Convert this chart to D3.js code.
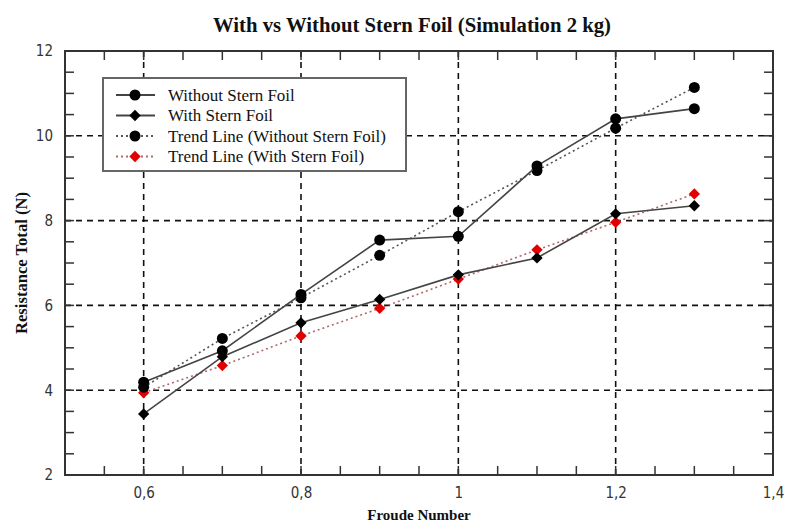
<!DOCTYPE html>
<html>
<head>
<meta charset="utf-8">
<script src="https://cdn.jsdelivr.net/npm/d3@7"></script>
<style>
  html, body { margin: 0; padding: 0; background: #fff; }
  svg { display: block; }
</style>
</head>
<body>
<svg id="chart" width="787" height="524"></svg>
<script>
// ---- data ----
const froude = [0.6, 0.7, 0.8, 0.9, 1.0, 1.1, 1.2, 1.3];
const withoutFoil = [4.19, 4.93, 6.26, 7.54, 7.63, 9.29, 10.40, 10.64];
const withFoil = [3.44, 4.79, 5.59, 6.14, 6.72, 7.12, 8.16, 8.35];
const trendWithout = [4.07, 5.22, 6.18, 7.18, 8.21, 9.18, 10.18, 11.14];
const trendWith = [3.94, 4.58, 5.28, 5.93, 6.62, 7.31, 7.96, 8.63];
const xTickValues = [0.6, 0.8, 1.0, 1.2, 1.4];
const xTickLabels = ["0,6", "0,8", "1", "1,2", "1,4"];
const yTickValues = [2, 4, 6, 8, 10, 12];
const seriesNames = ["Without Stern Foil", "With Stern Foil", "Trend Line (Without Stern Foil)", "Trend Line (With Stern Foil)"];
const titleText = "With vs Without Stern Foil (Simulation 2 kg)";
const xLabel = "Froude Number";
const yLabel = "Resistance Total (N)";

// ---- layout ----
const svg = d3.select("#chart");
const L = 65, R = 773, T = 51, B = 475;
const x = d3.scaleLinear().domain([0.5, 1.4]).range([L, R]);
const y = d3.scaleLinear().domain([2, 12]).range([B, T]);

// grid (dashed) at major values
const gridX = [0.6, 0.8, 1.0, 1.2];
const gridY = [4, 6, 8, 10];
svg.append("g").selectAll("line.gx").data(gridX).join("line")
  .attr("x1", d => x(d)).attr("x2", d => x(d)).attr("y1", T).attr("y2", B)
  .attr("stroke", "#111").attr("stroke-width", 1.6).attr("stroke-dasharray", "6,5");
svg.append("g").selectAll("line.gy").data(gridY).join("line")
  .attr("y1", d => y(d)).attr("y2", d => y(d)).attr("x1", L).attr("x2", R)
  .attr("stroke", "#111").attr("stroke-width", 1.6).attr("stroke-dasharray", "6,5");

// minor ticks (inside, all four sides)
const xMinor = d3.range(0.55, 1.4, 0.05).map(v => +v.toFixed(2));
const yMinor = d3.range(2.5, 12, 0.5).map(v => +v.toFixed(2));
const tk = svg.append("g").attr("stroke", "#333").attr("stroke-width", 1.5);
xMinor.forEach(v => {
  tk.append("line").attr("x1", x(v)).attr("x2", x(v)).attr("y1", B).attr("y2", B - 9);
  tk.append("line").attr("x1", x(v)).attr("x2", x(v)).attr("y1", T).attr("y2", T + 9);
});
yMinor.forEach(v => {
  tk.append("line").attr("y1", y(v)).attr("y2", y(v)).attr("x1", L).attr("x2", L + 9);
  tk.append("line").attr("y1", y(v)).attr("y2", y(v)).attr("x1", R).attr("x2", R - 9);
});

// frame
svg.append("rect").attr("x", L).attr("y", T).attr("width", R - L).attr("height", B - T)
  .attr("fill", "none").attr("stroke", "#333").attr("stroke-width", 2);

// axes labels via d3 axes (no domain/ticks lines)
const xAxis = d3.axisBottom(x).tickValues(xTickValues).tickSize(0).tickPadding(12)
  .tickFormat((d, i) => xTickLabels[i]);
const gx = svg.append("g").attr("transform", `translate(0,${B})`).call(xAxis);
gx.select(".domain").remove();
gx.selectAll("text").attr("font-family", "DejaVu Sans Condensed, DejaVu Sans, sans-serif")
  .attr("font-size", 15).attr("fill", "#333");

const yAxis = d3.axisLeft(y).tickValues(yTickValues).tickSize(0).tickPadding(12);
const gy = svg.append("g").attr("transform", `translate(${L},0)`).call(yAxis);
gy.select(".domain").remove();
gy.selectAll("text").attr("font-family", "DejaVu Sans Condensed, DejaVu Sans, sans-serif")
  .attr("font-size", 15).attr("fill", "#333");

// titles
svg.append("text").attr("x", 412).attr("y", 32).attr("text-anchor", "middle")
  .attr("font-family", "Liberation Serif, Times New Roman, serif").attr("font-weight", "bold")
  .attr("font-size", 20).attr("fill", "#111")
  .attr("textLength", 398).attr("lengthAdjust", "spacingAndGlyphs").text(titleText);
svg.append("text").attr("x", 419).attr("y", 520).attr("text-anchor", "middle")
  .attr("font-family", "Liberation Serif, Times New Roman, serif").attr("font-weight", "bold")
  .attr("font-size", 15).attr("fill", "#111").text(xLabel);
svg.append("text").attr("transform", "translate(27,263) rotate(-90)").attr("text-anchor", "middle")
  .attr("font-family", "Liberation Serif, Times New Roman, serif").attr("font-weight", "bold")
  .attr("font-size", 16).attr("fill", "#111")
  .attr("textLength", 142).attr("lengthAdjust", "spacingAndGlyphs").text(yLabel);

// series
const pts = vals => froude.map((f, i) => [f, vals[i]]);
const line = d3.line().x(d => x(d[0])).y(d => y(d[1]));

function drawSeries(vals, stroke, dash, width, markerType, markerFill) {
  const g = svg.append("g");
  g.append("path").datum(pts(vals)).attr("d", line).attr("fill", "none")
    .attr("stroke", stroke).attr("stroke-width", width).attr("stroke-dasharray", dash);
  if (markerType === "circle") {
    g.selectAll("circle").data(pts(vals)).join("circle")
      .attr("cx", d => x(d[0])).attr("cy", d => y(d[1])).attr("r", 5.5).attr("fill", markerFill);
  } else {
    g.selectAll("path.m").data(pts(vals)).join("path").attr("class", "m")
      .attr("d", d3.symbol().type(d3.symbolSquare).size(64))
      .attr("transform", d => `translate(${x(d[0])},${y(d[1])}) rotate(45)`)
      .attr("fill", markerFill);
  }
}
drawSeries(trendWith, "#b06a6a", "2,3", 1.6, "diamond", "#e00000");
drawSeries(trendWithout, "#555", "2,3", 1.6, "circle", "#000");
drawSeries(withFoil, "#444", null, 1.6, "diamond", "#000");
drawSeries(withoutFoil, "#444", null, 1.6, "circle", "#000");

// legend
const lg = svg.append("g");
lg.append("rect").attr("x", 103).attr("y", 78).attr("width", 303).attr("height", 93)
  .attr("fill", "#fff").attr("stroke", "#666").attr("stroke-width", 2);
const legendRows = [
  {name: seriesNames[0], stroke: "#444", dash: null, m: "circle", fill: "#000"},
  {name: seriesNames[1], stroke: "#444", dash: null, m: "diamond", fill: "#000"},
  {name: seriesNames[2], stroke: "#555", dash: "2,3", m: "circle", fill: "#000"},
  {name: seriesNames[3], stroke: "#b06a6a", dash: "2,3", m: "diamond", fill: "#e00000"}
];
legendRows.forEach((r, i) => {
  const yy = 95 + i * 20.5;
  lg.append("line").attr("x1", 116).attr("x2", 155).attr("y1", yy).attr("y2", yy)
    .attr("stroke", r.stroke).attr("stroke-width", 1.8).attr("stroke-dasharray", r.dash);
  if (r.m === "circle") {
    lg.append("circle").attr("cx", 135).attr("cy", yy).attr("r", 5.5).attr("fill", r.fill);
  } else {
    lg.append("path").attr("d", d3.symbol().type(d3.symbolSquare).size(64))
      .attr("transform", `translate(135,${yy}) rotate(45)`).attr("fill", r.fill);
  }
  lg.append("text").attr("x", 168).attr("y", yy + 5.5)
    .attr("font-family", "Liberation Serif, Times New Roman, serif")
    .attr("font-size", 17).attr("fill", "#111").text(r.name);
});
</script>
</body>
</html>
